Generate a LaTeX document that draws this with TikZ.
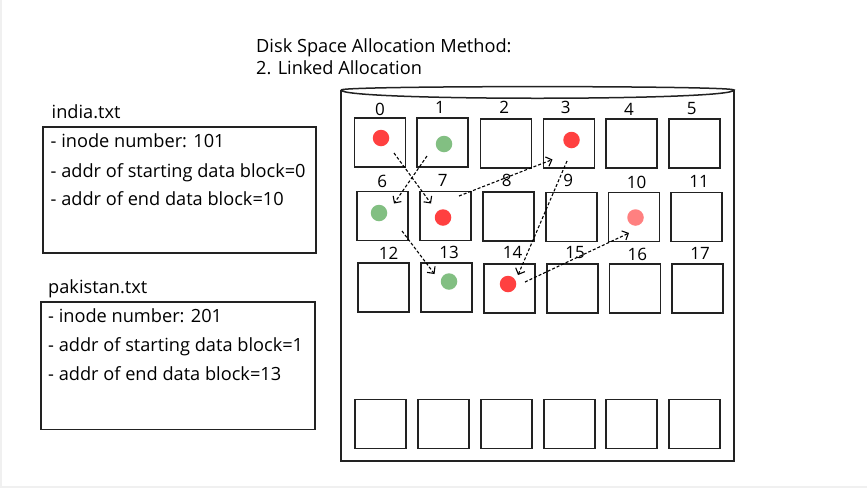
\documentclass[tikz,border=0pt]{standalone}
\usepackage{fontspec}
\setmainfont{Open Sans}
\usetikzlibrary{calc,arrows.meta}

\definecolor{dotred}{HTML}{FF4040}
\definecolor{dotgreen}{HTML}{82BF82}
\definecolor{dotpink}{HTML}{FF8080}
\definecolor{edge}{HTML}{222222}
\definecolor{bggray}{HTML}{F0F0F0}

\begin{document}
\begin{tikzpicture}[x=1pt, y=-1pt,
	block/.style={draw=edge, line width=1.3pt, minimum width=51pt, minimum height=49pt, inner sep=0pt},
	filebox/.style={draw=edge, line width=1.3pt, inner sep=0pt},
	blockno/.style={anchor=base, inner sep=0pt, font=\fontsize{17}{19}\selectfont},
	txt/.style={anchor=base west, inner sep=0pt, font=\fontsize{18.2}{22}\selectfont},
	dot/.style={circle, inner sep=0pt, minimum size=16.5pt},
	link/.style={line width=1.1pt, dash pattern=on 3pt off 2pt,
		-{Straight Barb[length=5pt, width=10pt, line width=1.1pt]}}]

	% ---- page

	\useasboundingbox (0,0) rectangle (867,488);
	\fill[bggray] (0,0) rectangle (867,488);
	\fill[white] (2,0) rectangle (867,486);

	% ---- title

	\node[txt] (title) at (256,52) {Disk Space Allocation Method:};
	\node[txt] (method) at (256,74) {2. Linked Allocation};

	% ---- files

	\node[txt] (india) at (51.5,118) {india.txt};
	\node[filebox, minimum width=273pt, minimum height=126pt] (ibox) at (179.5,190) {};
	\node[txt] (i1) at (50.5,147.3) {- inode number: 101};
	\node[txt] (i2) at (50.5,177.3) {- addr of starting data block=0};
	\node[txt] (i3) at (50.5,205) {- addr of end data block=10};

	\node[txt] (pakistan) at (48,293) {pakistan.txt};
	\node[filebox, minimum width=274pt, minimum height=127.5pt] (pbox) at (178,365.75) {};
	\node[txt] (p1) at (48,322.3) {- inode number: 201};
	\node[txt] (p2) at (48,351.7) {- addr of starting data block=1};
	\node[txt] (p3) at (48,380) {- addr of end data block=13};

	% ---- disk

	\draw[edge, line width=1.5pt] (341,90) -- (341,461) -- (734,461) -- (734,90);
	\draw[edge, line width=1.5pt] (341,90) .. controls (341,85.5) and (734,85.5) .. (734,90)
		.. controls (734,101) and (341,101) .. (341,90);

	% ---- blocks

	\foreach \n/\x/\y in {0/380/142.5, 1/442.5/142.5, 2/506/143.5, 3/569/143.5, 4/631.5/143.5, 5/694.5/143.5,
		6/382.5/216, 7/445.5/216, 8/508.5/216.5, 9/571.5/217, 10/634/217, 11/696.5/217,
		12/383.5/287.5, 13/446.5/287.5, 14/509.5/288.5, 15/572.5/288.5, 16/635/288.5, 17/697.5/288.5}
		{ \node[block] (b\n) at (\x,\y) {}; }

	\foreach \n/\x in {0/380.5, 1/443.5, 2/506.5, 3/569.5, 4/631.5, 5/694.5}
		{ \node[block] (e\n) at (\x,424) {}; }

	% ---- block numbers

	\foreach \n/\x/\y in {0/380/115, 1/440/113.3, 2/504.3/113.3, 3/565.7/113.3, 4/629/115.7, 5/691.7/114,
		6/382.3/187.7, 7/442.7/186.7, 8/506.7/186.7, 9/568.3/186.7, 10/636.7/188.3, 11/699/187.3,
		12/388.7/259.3, 13/449/258.3, 14/512.7/258.3, 15/575/258.3, 16/637.3/260.7, 17/700/259.3}
		{ \node[blockno] (n\n) at (\x,\y) {\n}; }

	% ---- data

	\node[dot, fill=dotred] (d0) at (381,138) {};
	\node[dot, fill=dotgreen] (d1) at (444,144) {};
	\node[dot, fill=dotred] (d3) at (571.5,140) {};
	\node[dot, fill=dotgreen] (d6) at (379,213) {};
	\node[dot, fill=dotred] (d7) at (443,217.5) {};
	\node[dot, fill=dotpink] (d10) at (635.5,217.5) {};
	\node[dot, fill=dotgreen] (d13) at (449,281.5) {};
	\node[dot, fill=dotred] (d14) at (508,284) {};

	% ---- links

	\draw[link] ($(d0)+(13,15)$) -- ($(d7)+(-12,-14)$);
	\draw[link] ($(d7)+(16,-21.5)$) -- ($(d3)+(-19,19.5)$);
	\draw[link] ($(d3)+(-4.5,21)$) -- ($(d14)+(10,-9)$);
	\draw[link] ($(d14)+(17,-2)$) -- ($(d10)+(-6.5,15.5)$);

	\draw[link] ($(d1)+(-17,12)$) -- ($(d6)+(15,-9.5)$);
	\draw[link] ($(d6)+(23,18)$) -- ($(d13)+(-14.5,-7.5)$);

\end{tikzpicture}
\end{document}
